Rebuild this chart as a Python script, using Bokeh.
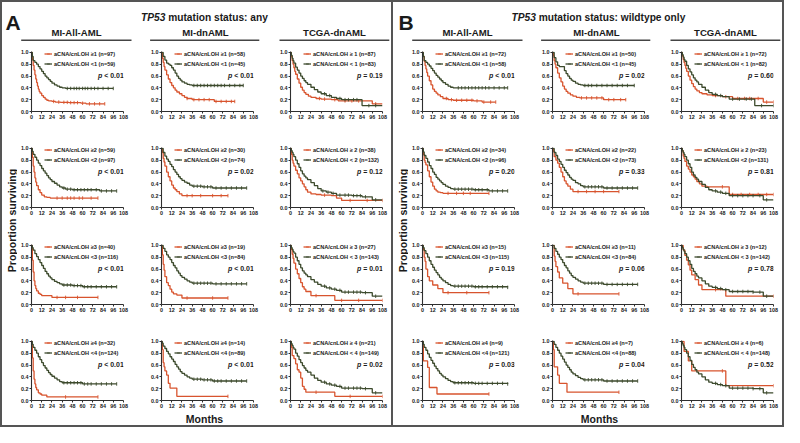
import numpy as np
from bokeh.plotting import figure
from bokeh.models import (Range1d, Label, Legend, LegendItem, FixedTicker,
                          PrintfTickFormatter)
from bokeh.layouts import row, column
from bokeh.embed import file_html
from bokeh.resources import INLINE

# ------------------------------------------------------------------ data
x_ticks = [0, 12, 24, 36, 48, 60, 72, 84, 96, 108]
y_ticks = [0.0, 0.2, 0.4, 0.6, 0.8, 1.0]
cohort_titles = ["MI-All-AML", "MI-dnAML", "TCGA-dnAML"]
cohort_keys = ["all", "dn", "tc"]
group_keys = ["a", "b"]
group_letters = ["A", "B"]
subtitle_gene = "TP53"
subtitle_rest = ["mutation status: any", "mutation status: wildtype only"]
x_title = "Months"
y_title = "Proportion surviving"

# legend labels and p-values (rows: threshold 1..4)
a_all_hi_labels = ["aCNA/cnLOH ≥1 (n=97)", "aCNA/cnLOH ≥2 (n=59)", "aCNA/cnLOH ≥3 (n=40)", "aCNA/cnLOH ≥4 (n=32)"]
a_all_lo_labels = ["aCNA/cnLOH <1 (n=59)", "aCNA/cnLOH <2 (n=97)", "aCNA/cnLOH <3 (n=116)", "aCNA/cnLOH <4 (n=124)"]
a_all_p = ["p < 0.01", "p < 0.01", "p < 0.01", "p < 0.01"]
a_dn_hi_labels = ["aCNA/cnLOH ≥1 (n=58)", "aCNA/cnLOH ≥2 (n=30)", "aCNA/cnLOH ≥3 (n=19)", "aCNA/cnLOH ≥4 (n=14)"]
a_dn_lo_labels = ["aCNA/cnLOH <1 (n=45)", "aCNA/cnLOH <2 (n=74)", "aCNA/cnLOH <3 (n=84)", "aCNA/cnLOH <4 (n=89)"]
a_dn_p = ["p < 0.01", "p = 0.02", "p < 0.01", "p < 0.01"]
a_tc_hi_labels = ["aCNA/cnLOH ≥ 1 (n=87)", "aCNA/cnLOH ≥ 2 (n=38)", "aCNA/cnLOH ≥ 3 (n=27)", "aCNA/cnLOH ≥ 4 (n=21)"]
a_tc_lo_labels = ["aCNA/cnLOH < 1 (n=83)", "aCNA/cnLOH < 2 (n=132)", "aCNA/cnLOH < 3 (n=143)", "aCNA/cnLOH < 4 (n=149)"]
a_tc_p = ["p = 0.19", "p = 0.12", "p = 0.01", "p = 0.02"]
b_all_hi_labels = ["aCNA/cnLOH ≥1 (n=72)", "aCNA/cnLOH ≥2 (n=34)", "aCNA/cnLOH ≥3 (n=15)", "aCNA/cnLOH ≥4 (n=9)"]
b_all_lo_labels = ["aCNA/cnLOH <1 (n=58)", "aCNA/cnLOH <2 (n=96)", "aCNA/cnLOH <3 (n=115)", "aCNA/cnLOH <4 (n=121)"]
b_all_p = ["p < 0.01", "p = 0.20", "p = 0.19", "p = 0.03"]
b_dn_hi_labels = ["aCNA/cnLOH ≥1 (n=50)", "aCNA/cnLOH ≥2 (n=22)", "aCNA/cnLOH ≥3 (n=11)", "aCNA/cnLOH ≥4 (n=7)"]
b_dn_lo_labels = ["aCNA/cnLOH <1 (n=45)", "aCNA/cnLOH <2 (n=73)", "aCNA/cnLOH <3 (n=84)", "aCNA/cnLOH <4 (n=88)"]
b_dn_p = ["p = 0.02", "p = 0.33", "p = 0.06", "p = 0.04"]
b_tc_hi_labels = ["aCNA/cnLOH ≥ 1 (n=72)", "aCNA/cnLOH ≥ 2 (n=23)", "aCNA/cnLOH ≥ 3 (n=12)", "aCNA/cnLOH ≥ 4 (n=6)"]
b_tc_lo_labels = ["aCNA/cnLOH < 1 (n=82)", "aCNA/cnLOH <2 (n=131)", "aCNA/cnLOH < 3 (n=142)", "aCNA/cnLOH < 4 (n=148)"]
b_tc_p = ["p = 0.60", "p = 0.81", "p = 0.78", "p = 0.52"]

# Kaplan-Meier curves: _t event times (months), _s survival after step, _c censor times
a_all_1_hi_t = [0, 1, 2, 3, 4, 5, 6, 7, 8, 9, 10, 12, 14, 16, 18, 20, 24, 28, 34, 44, 58, 64, 86]
a_all_1_hi_s = [1.0, 0.88, 0.78, 0.70, 0.62, 0.55, 0.49, 0.43, 0.38, 0.34, 0.31, 0.27, 0.24, 0.21, 0.19, 0.18, 0.17, 0.16, 0.155, 0.15, 0.14, 0.13, 0.13]
a_all_1_hi_c = [26, 32, 38, 42, 46, 50, 54, 60, 68, 74, 80, 86]
a_all_1_lo_t = [0, 1, 2, 4, 6, 8, 10, 12, 14, 16, 18, 20, 22, 24, 27, 30, 33, 36, 40, 96]
a_all_1_lo_s = [1.0, 0.93, 0.86, 0.83, 0.80, 0.76, 0.72, 0.68, 0.64, 0.60, 0.57, 0.54, 0.51, 0.48, 0.45, 0.43, 0.41, 0.40, 0.39, 0.39]
a_all_1_lo_c = [42, 46, 50, 53, 56, 60, 63, 66, 70, 74, 78, 84, 90, 96]

a_dn_1_hi_t = [0, 1, 2, 3, 4, 6, 8, 10, 12, 14, 16, 18, 21, 24, 27, 30, 36, 62, 86]
a_dn_1_hi_s = [1.0, 0.90, 0.83, 0.76, 0.70, 0.62, 0.55, 0.49, 0.44, 0.40, 0.36, 0.33, 0.30, 0.27, 0.24, 0.22, 0.20, 0.17, 0.17]
a_dn_1_hi_c = [30, 38, 44, 50, 56, 64, 70, 76, 82, 86]
a_dn_1_lo_t = [0, 2, 4, 6, 8, 10, 12, 14, 16, 18, 20, 22, 24, 27, 30, 33, 36, 96]
a_dn_1_lo_s = [1.0, 0.93, 0.87, 0.82, 0.80, 0.78, 0.74, 0.70, 0.65, 0.60, 0.56, 0.53, 0.50, 0.48, 0.46, 0.45, 0.44, 0.44]
a_dn_1_lo_c = [38, 42, 46, 50, 54, 58, 62, 66, 70, 74, 80, 86, 92, 96]

a_tc_1_hi_t = [0, 1, 2, 3, 4, 5, 6, 8, 10, 12, 14, 16, 18, 21, 24, 30, 36, 48, 56, 84, 96, 108]
a_tc_1_hi_s = [1.0, 0.93, 0.86, 0.80, 0.74, 0.68, 0.63, 0.55, 0.48, 0.41, 0.36, 0.32, 0.29, 0.26, 0.24, 0.22, 0.21, 0.20, 0.18, 0.18, 0.13, 0.13]
a_tc_1_hi_c = [34, 40, 52, 64, 72, 80, 100]
a_tc_1_lo_t = [0, 1, 2, 3, 4, 6, 8, 10, 12, 14, 16, 18, 20, 24, 28, 32, 36, 42, 48, 54, 60, 84, 108]
a_tc_1_lo_s = [1.0, 0.95, 0.90, 0.86, 0.82, 0.75, 0.70, 0.65, 0.60, 0.56, 0.52, 0.49, 0.46, 0.41, 0.37, 0.33, 0.30, 0.27, 0.24, 0.22, 0.20, 0.10, 0.10]
a_tc_1_lo_c = [40, 46, 58, 64, 68, 74, 78, 92, 100]

a_all_2_hi_t = [0, 1, 2, 3, 4, 5, 6, 8, 10, 12, 15, 18, 22, 78]
a_all_2_hi_s = [1.0, 0.85, 0.70, 0.60, 0.50, 0.43, 0.37, 0.30, 0.25, 0.21, 0.18, 0.17, 0.16, 0.16]
a_all_2_hi_c = [30, 36, 42, 46, 50, 56, 60, 70, 78]
a_all_2_lo_t = [0, 1, 2, 4, 6, 8, 10, 12, 14, 16, 18, 20, 22, 24, 27, 30, 33, 36, 40, 48, 72, 80, 100]
a_all_2_lo_s = [1.0, 0.95, 0.90, 0.85, 0.80, 0.75, 0.71, 0.66, 0.62, 0.58, 0.54, 0.50, 0.47, 0.44, 0.41, 0.38, 0.35, 0.33, 0.31, 0.30, 0.30, 0.28, 0.28]
a_all_2_lo_c = [38, 42, 46, 50, 54, 58, 62, 66, 70, 76, 82, 88, 94, 100]

a_dn_2_hi_t = [0, 1, 2, 3, 4, 6, 8, 10, 12, 14, 16, 18, 21, 24, 78]
a_dn_2_hi_s = [1.0, 0.93, 0.83, 0.77, 0.70, 0.60, 0.52, 0.45, 0.38, 0.33, 0.30, 0.27, 0.23, 0.20, 0.20]
a_dn_2_hi_c = [30, 36, 46, 60, 70, 78]
a_dn_2_lo_t = [0, 2, 4, 6, 8, 10, 12, 14, 16, 18, 20, 22, 24, 27, 30, 33, 36, 48, 60, 100]
a_dn_2_lo_s = [1.0, 0.93, 0.87, 0.82, 0.78, 0.73, 0.69, 0.64, 0.60, 0.56, 0.52, 0.49, 0.46, 0.43, 0.41, 0.38, 0.36, 0.35, 0.33, 0.33]
a_dn_2_lo_c = [38, 42, 46, 50, 54, 58, 64, 70, 76, 82, 88, 94, 100]

a_tc_2_hi_t = [0, 1, 2, 3, 4, 6, 8, 10, 12, 14, 16, 18, 20, 24, 30, 36, 48, 54, 60, 108]
a_tc_2_hi_s = [1.0, 0.90, 0.80, 0.75, 0.70, 0.63, 0.57, 0.50, 0.45, 0.40, 0.35, 0.30, 0.26, 0.23, 0.22, 0.21, 0.20, 0.16, 0.12, 0.12]
a_tc_2_hi_c = [40, 70, 90, 108]
a_tc_2_lo_t = [0, 1, 2, 3, 4, 6, 8, 10, 12, 14, 16, 18, 20, 24, 28, 32, 36, 42, 48, 54, 72, 84, 96, 108]
a_tc_2_lo_s = [1.0, 0.96, 0.93, 0.90, 0.86, 0.80, 0.74, 0.68, 0.62, 0.57, 0.53, 0.50, 0.47, 0.42, 0.37, 0.32, 0.28, 0.26, 0.24, 0.21, 0.20, 0.18, 0.13, 0.13]
a_tc_2_lo_c = [38, 44, 50, 58, 64, 68, 74, 78, 82, 88, 100]

a_all_3_hi_t = [0, 1, 2, 3, 4, 5, 6, 8, 10, 12, 24, 78]
a_all_3_hi_s = [1.0, 0.75, 0.55, 0.40, 0.32, 0.27, 0.23, 0.19, 0.17, 0.15, 0.12, 0.12]
a_all_3_hi_c = [30, 40, 54, 78]
a_all_3_lo_t = [0, 1, 2, 4, 6, 8, 10, 12, 14, 16, 18, 20, 22, 24, 27, 30, 33, 36, 48, 60, 100]
a_all_3_lo_s = [1.0, 0.96, 0.92, 0.86, 0.81, 0.76, 0.71, 0.66, 0.61, 0.56, 0.52, 0.48, 0.45, 0.42, 0.39, 0.37, 0.35, 0.33, 0.32, 0.30, 0.30]
a_all_3_lo_c = [38, 42, 46, 50, 54, 58, 62, 66, 70, 76, 82, 88, 94, 100]

a_dn_3_hi_t = [0, 1, 2, 3, 4, 6, 8, 10, 12, 14, 18, 24, 78]
a_dn_3_hi_s = [1.0, 0.84, 0.68, 0.58, 0.47, 0.37, 0.32, 0.26, 0.21, 0.18, 0.16, 0.11, 0.11]
a_dn_3_hi_c = [30, 60, 78]
a_dn_3_lo_t = [0, 2, 4, 6, 8, 10, 12, 14, 16, 18, 20, 22, 24, 27, 30, 33, 36, 60, 100]
a_dn_3_lo_s = [1.0, 0.95, 0.90, 0.84, 0.80, 0.76, 0.71, 0.66, 0.62, 0.57, 0.53, 0.49, 0.46, 0.43, 0.40, 0.38, 0.36, 0.35, 0.35]
a_dn_3_lo_c = [38, 42, 46, 50, 54, 58, 64, 70, 76, 82, 88, 94, 100]

a_tc_3_hi_t = [0, 1, 2, 3, 4, 6, 8, 10, 12, 14, 16, 18, 24, 52, 108]
a_tc_3_hi_s = [1.0, 0.93, 0.85, 0.78, 0.70, 0.60, 0.52, 0.44, 0.37, 0.30, 0.26, 0.22, 0.15, 0.07, 0.07]
a_tc_3_hi_c = [30, 60, 80, 108]
a_tc_3_lo_t = [0, 1, 2, 3, 4, 6, 8, 10, 12, 14, 16, 18, 20, 24, 28, 32, 36, 42, 48, 54, 60, 84, 96, 108]
a_tc_3_lo_s = [1.0, 0.96, 0.93, 0.90, 0.87, 0.80, 0.74, 0.68, 0.62, 0.57, 0.53, 0.50, 0.47, 0.42, 0.38, 0.34, 0.31, 0.28, 0.26, 0.24, 0.21, 0.20, 0.14, 0.14]
a_tc_3_lo_c = [40, 46, 52, 58, 64, 68, 74, 78, 82, 88, 100]

a_all_4_hi_t = [0, 1, 2, 3, 4, 5, 6, 8, 10, 12, 18, 78]
a_all_4_hi_s = [1.0, 0.72, 0.50, 0.36, 0.28, 0.22, 0.18, 0.13, 0.11, 0.09, 0.06, 0.06]
a_all_4_hi_c = [40, 78]
a_all_4_lo_t = [0, 1, 2, 4, 6, 8, 10, 12, 14, 16, 18, 20, 22, 24, 27, 30, 33, 36, 48, 60, 100]
a_all_4_lo_s = [1.0, 0.95, 0.90, 0.85, 0.80, 0.74, 0.69, 0.64, 0.59, 0.55, 0.51, 0.47, 0.44, 0.41, 0.38, 0.35, 0.32, 0.30, 0.30, 0.28, 0.28]
a_all_4_lo_c = [38, 42, 46, 50, 54, 58, 62, 66, 70, 76, 82, 88, 94, 100]

a_dn_4_hi_t = [0, 1, 2, 3, 4, 6, 8, 10, 18, 78]
a_dn_4_hi_s = [1.0, 0.86, 0.64, 0.57, 0.50, 0.43, 0.29, 0.21, 0.07, 0.07]
a_dn_4_hi_c = [78]
a_dn_4_lo_t = [0, 1, 2, 4, 6, 8, 10, 12, 14, 16, 18, 20, 22, 24, 27, 30, 33, 36, 48, 60, 100]
a_dn_4_lo_s = [1.0, 0.97, 0.92, 0.88, 0.83, 0.79, 0.74, 0.70, 0.66, 0.61, 0.57, 0.53, 0.49, 0.46, 0.43, 0.40, 0.38, 0.36, 0.35, 0.33, 0.33]
a_dn_4_lo_c = [38, 42, 46, 50, 54, 58, 62, 66, 70, 76, 82, 88, 94, 100]

a_tc_4_hi_t = [0, 1, 2, 4, 6, 8, 10, 12, 14, 16, 18, 48, 52, 108]
a_tc_4_hi_s = [1.0, 0.90, 0.76, 0.71, 0.62, 0.52, 0.48, 0.38, 0.24, 0.19, 0.14, 0.14, 0.07, 0.07]
a_tc_4_hi_c = [30, 70, 108]
a_tc_4_lo_t = [0, 1, 2, 3, 4, 6, 8, 10, 12, 14, 16, 18, 20, 24, 28, 32, 36, 42, 48, 54, 60, 84, 96, 108]
a_tc_4_lo_s = [1.0, 0.96, 0.93, 0.90, 0.87, 0.80, 0.75, 0.69, 0.64, 0.59, 0.55, 0.51, 0.48, 0.43, 0.38, 0.34, 0.31, 0.28, 0.26, 0.24, 0.21, 0.20, 0.13, 0.13]
a_tc_4_lo_c = [40, 46, 52, 58, 64, 68, 74, 78, 82, 88, 100]

b_all_1_hi_t = [0, 1, 2, 3, 4, 5, 6, 8, 10, 12, 14, 16, 18, 21, 24, 30, 36, 60, 70, 86]
b_all_1_hi_s = [1.0, 0.93, 0.85, 0.78, 0.72, 0.66, 0.60, 0.52, 0.45, 0.38, 0.34, 0.31, 0.28, 0.25, 0.22, 0.20, 0.19, 0.18, 0.16, 0.16]
b_all_1_hi_c = [28, 34, 40, 46, 52, 58, 64, 72, 80, 86]
b_all_1_lo_t = [0, 1, 2, 4, 6, 8, 10, 12, 14, 16, 18, 20, 22, 24, 27, 30, 33, 36, 40, 100]
b_all_1_lo_s = [1.0, 0.93, 0.86, 0.83, 0.80, 0.77, 0.73, 0.69, 0.65, 0.61, 0.58, 0.55, 0.52, 0.49, 0.46, 0.43, 0.41, 0.40, 0.40, 0.40]
b_all_1_lo_c = [42, 46, 50, 54, 58, 62, 66, 70, 74, 78, 84, 90, 96, 100]

b_dn_1_hi_t = [0, 1, 2, 3, 4, 6, 8, 10, 12, 14, 16, 18, 21, 24, 28, 32, 48, 60, 86]
b_dn_1_hi_s = [1.0, 0.94, 0.86, 0.80, 0.74, 0.65, 0.57, 0.50, 0.43, 0.38, 0.34, 0.31, 0.28, 0.26, 0.24, 0.23, 0.23, 0.20, 0.20]
b_dn_1_hi_c = [34, 40, 46, 52, 58, 66, 72, 80, 86]
b_dn_1_lo_t = [0, 2, 4, 6, 8, 12, 14, 16, 18, 20, 22, 24, 27, 30, 33, 36, 96]
b_dn_1_lo_s = [1.0, 0.91, 0.84, 0.78, 0.76, 0.76, 0.69, 0.64, 0.60, 0.56, 0.53, 0.51, 0.48, 0.46, 0.45, 0.44, 0.44]
b_dn_1_lo_c = [38, 42, 46, 52, 58, 64, 70, 76, 82, 88, 96]

b_tc_1_hi_t = [0, 1, 2, 3, 4, 5, 6, 8, 10, 12, 14, 16, 18, 21, 24, 30, 36, 48, 60, 84, 96, 108]
b_tc_1_hi_s = [1.0, 0.94, 0.88, 0.83, 0.78, 0.73, 0.68, 0.60, 0.53, 0.47, 0.42, 0.38, 0.35, 0.32, 0.30, 0.28, 0.27, 0.25, 0.22, 0.22, 0.16, 0.16]
b_tc_1_hi_c = [40, 52, 66, 74, 80, 90, 100, 108]
b_tc_1_lo_t = [0, 1, 2, 3, 4, 6, 8, 10, 12, 14, 16, 18, 20, 24, 28, 32, 36, 42, 48, 56, 86, 108]
b_tc_1_lo_s = [1.0, 0.96, 0.92, 0.88, 0.85, 0.78, 0.72, 0.67, 0.62, 0.57, 0.53, 0.50, 0.46, 0.41, 0.36, 0.32, 0.29, 0.27, 0.25, 0.21, 0.10, 0.10]
b_tc_1_lo_c = [40, 46, 60, 68, 76, 82, 94, 108]

b_all_2_hi_t = [0, 1, 2, 3, 4, 6, 8, 10, 12, 14, 16, 18, 21, 24, 78]
b_all_2_hi_s = [1.0, 0.90, 0.80, 0.76, 0.72, 0.62, 0.52, 0.43, 0.36, 0.31, 0.28, 0.26, 0.25, 0.24, 0.24]
b_all_2_hi_c = [30, 40, 48, 56, 78]
b_all_2_lo_t = [0, 1, 2, 4, 6, 8, 10, 12, 14, 16, 18, 20, 22, 24, 27, 30, 33, 36, 60, 78, 100]
b_all_2_lo_s = [1.0, 0.94, 0.88, 0.83, 0.77, 0.71, 0.66, 0.60, 0.56, 0.51, 0.48, 0.45, 0.42, 0.39, 0.36, 0.34, 0.32, 0.31, 0.30, 0.28, 0.28]
b_all_2_lo_c = [38, 42, 46, 50, 54, 58, 62, 66, 70, 76, 82, 88, 94, 100]

b_dn_2_hi_t = [0, 1, 2, 4, 6, 8, 10, 12, 14, 16, 18, 21, 24, 78]
b_dn_2_hi_s = [1.0, 0.95, 0.86, 0.80, 0.75, 0.68, 0.60, 0.52, 0.45, 0.40, 0.36, 0.31, 0.27, 0.27]
b_dn_2_hi_c = [30, 40, 50, 60, 78]
b_dn_2_lo_t = [0, 2, 4, 6, 8, 10, 12, 14, 16, 18, 20, 22, 24, 27, 30, 33, 36, 60, 100]
b_dn_2_lo_s = [1.0, 0.93, 0.88, 0.82, 0.78, 0.73, 0.68, 0.63, 0.59, 0.55, 0.51, 0.48, 0.46, 0.42, 0.40, 0.37, 0.35, 0.33, 0.33]
b_dn_2_lo_c = [38, 42, 46, 50, 54, 58, 64, 70, 76, 82, 88, 94, 100]

b_tc_2_hi_t = [0, 1, 2, 3, 4, 6, 8, 10, 12, 14, 16, 18, 21, 24, 30, 52, 56, 108]
b_tc_2_hi_s = [1.0, 0.96, 0.87, 0.83, 0.78, 0.70, 0.65, 0.60, 0.55, 0.52, 0.48, 0.44, 0.40, 0.36, 0.35, 0.35, 0.22, 0.22]
b_tc_2_hi_c = [48, 60, 70, 80, 90, 100, 108]
b_tc_2_lo_t = [0, 1, 2, 3, 4, 6, 8, 10, 12, 14, 16, 18, 20, 24, 28, 32, 36, 42, 48, 56, 84, 96, 108]
b_tc_2_lo_s = [1.0, 0.96, 0.93, 0.90, 0.86, 0.80, 0.74, 0.68, 0.60, 0.55, 0.51, 0.48, 0.44, 0.39, 0.34, 0.30, 0.28, 0.26, 0.24, 0.20, 0.20, 0.13, 0.13]
b_tc_2_lo_c = [40, 46, 52, 60, 66, 72, 78, 84, 92, 100]

b_all_3_hi_t = [0, 1, 2, 3, 4, 6, 8, 12, 18, 24, 78]
b_all_3_hi_s = [1.0, 0.93, 0.80, 0.73, 0.60, 0.47, 0.40, 0.33, 0.27, 0.20, 0.20]
b_all_3_hi_c = [30, 52, 78]
b_all_3_lo_t = [0, 1, 2, 4, 6, 8, 10, 12, 14, 16, 18, 20, 22, 24, 27, 30, 33, 36, 60, 100]
b_all_3_lo_s = [1.0, 0.96, 0.91, 0.86, 0.80, 0.74, 0.68, 0.63, 0.58, 0.54, 0.50, 0.46, 0.43, 0.40, 0.37, 0.34, 0.32, 0.31, 0.30, 0.29]
b_all_3_lo_c = [38, 42, 46, 50, 54, 58, 62, 66, 70, 76, 82, 88, 94, 100]

b_dn_3_hi_t = [0, 2, 3, 4, 6, 8, 12, 18, 24, 78]
b_dn_3_hi_s = [1.0, 0.82, 0.73, 0.64, 0.55, 0.45, 0.36, 0.27, 0.18, 0.18]
b_dn_3_hi_c = [30, 78]
b_dn_3_lo_t = [0, 2, 4, 6, 8, 10, 12, 14, 16, 18, 20, 22, 24, 27, 30, 33, 36, 60, 100]
b_dn_3_lo_s = [1.0, 0.95, 0.90, 0.85, 0.80, 0.76, 0.71, 0.66, 0.62, 0.57, 0.53, 0.49, 0.46, 0.43, 0.40, 0.38, 0.36, 0.34, 0.34]
b_dn_3_lo_c = [38, 42, 46, 50, 54, 58, 64, 70, 76, 82, 88, 94, 100]

b_tc_3_hi_t = [0, 2, 4, 6, 8, 10, 12, 16, 20, 24, 52, 108]
b_tc_3_hi_s = [1.0, 0.92, 0.83, 0.75, 0.67, 0.58, 0.50, 0.42, 0.33, 0.25, 0.14, 0.14]
b_tc_3_hi_c = [40, 108]
b_tc_3_lo_t = [0, 1, 2, 3, 4, 6, 8, 10, 12, 14, 16, 18, 20, 24, 28, 32, 36, 42, 48, 56, 84, 96, 108]
b_tc_3_lo_s = [1.0, 0.96, 0.93, 0.90, 0.86, 0.80, 0.74, 0.68, 0.61, 0.56, 0.52, 0.48, 0.45, 0.40, 0.35, 0.31, 0.29, 0.27, 0.25, 0.22, 0.21, 0.14, 0.14]
b_tc_3_lo_c = [40, 46, 52, 60, 66, 72, 78, 84, 92, 100]

b_all_4_hi_t = [0, 1, 6, 8, 17, 78]
b_all_4_hi_s = [1.0, 0.67, 0.56, 0.22, 0.11, 0.11]
b_all_4_hi_c = [78]
b_all_4_lo_t = [0, 1, 2, 4, 6, 8, 10, 12, 14, 16, 18, 20, 22, 24, 27, 30, 33, 36, 60, 100]
b_all_4_lo_s = [1.0, 0.95, 0.90, 0.85, 0.79, 0.73, 0.68, 0.63, 0.58, 0.54, 0.50, 0.46, 0.43, 0.40, 0.37, 0.34, 0.32, 0.30, 0.29, 0.28]
b_all_4_lo_c = [38, 42, 46, 50, 54, 58, 62, 66, 70, 76, 82, 88, 94, 100]

b_dn_4_hi_t = [0, 1, 2, 6, 8, 17, 78]
b_dn_4_hi_s = [1.0, 0.86, 0.57, 0.43, 0.29, 0.14, 0.14]
b_dn_4_hi_c = [78]
b_dn_4_lo_t = [0, 2, 4, 6, 8, 10, 12, 14, 16, 18, 20, 22, 24, 27, 30, 33, 36, 60, 100]
b_dn_4_lo_s = [1.0, 0.95, 0.90, 0.85, 0.80, 0.75, 0.70, 0.65, 0.60, 0.56, 0.52, 0.48, 0.45, 0.42, 0.39, 0.37, 0.35, 0.33, 0.33]
b_dn_4_lo_c = [38, 42, 46, 50, 54, 58, 64, 70, 76, 82, 88, 94, 100]

b_tc_4_hi_t = [0, 3, 8, 12, 52, 108]
b_tc_4_hi_s = [1.0, 0.83, 0.67, 0.50, 0.25, 0.25]
b_tc_4_hi_c = [48, 108]
b_tc_4_lo_t = [0, 1, 2, 3, 4, 6, 8, 10, 12, 14, 16, 18, 20, 24, 28, 32, 36, 42, 48, 56, 84, 96, 108]
b_tc_4_lo_s = [1.0, 0.96, 0.93, 0.90, 0.86, 0.80, 0.74, 0.68, 0.61, 0.56, 0.52, 0.48, 0.45, 0.40, 0.35, 0.31, 0.29, 0.27, 0.25, 0.21, 0.20, 0.13, 0.13]
b_tc_4_lo_c = [40, 46, 52, 60, 66, 72, 78, 84, 92, 100]

# ------------------------------------------------------------------ style / layout
FONT = "Liberation Sans"
RED = "#d8542e"
GREEN = "#3c4a2c"
INK = "#1a1a1a"
AXIS = "#2e2e2e"
BOX = "#555555"

GROUP_W = 389
HEAD_H = 45
FOOT_H = 14
YLAB_W = 15
COL_W = [130, 129, 115]
COL_RIGHT = [24, 23, 9]
ROW_H = [96, 97, 96, 75]
ROW_BOTTOM = [32, 33, 32, 11]
LEFT = 14
TOP = 4

LETTER_X = [3, 5]
SUB_X = [138.5, 118.0]
GENE_W = 27.2
TITLE_X = [74, 203, 332]
UNDER_X0 = [18.7, 147.6, 277.0]
UNDER_X1 = [129.0, 256.8, 386.8]
MONTHS_X = [202, 206]
P_X = 78
P_Y = 0.61

data = globals()


def km_censor(t, s, c):
    t = np.asarray(t, float)
    s = np.asarray(s, float)
    c = np.asarray(c, float)
    idx = np.searchsorted(t, c, side="right") - 1
    return c, s[idx]


def blank(w, h, xr, yr):
    p = figure(width=w, height=h, x_range=xr, y_range=yr, x_axis_type=None,
               y_axis_type=None, toolbar_location=None, output_backend="svg",
               min_border_left=0, min_border_right=0, min_border_top=0,
               min_border_bottom=0, outline_line_color=None,
               background_fill_color="white", border_fill_color="white")
    return p


def panel(g, ci, r):
    ck = cohort_keys[ci]
    p = figure(width=COL_W[ci], height=ROW_H[r], x_range=Range1d(0, 108),
               y_range=Range1d(0, 1.015), toolbar_location=None,
               output_backend="svg", min_border_left=LEFT,
               min_border_right=COL_RIGHT[ci], min_border_top=TOP,
               min_border_bottom=ROW_BOTTOM[r], outline_line_color=None,
               background_fill_color="white", border_fill_color="white")
    p.xgrid.visible = False
    p.ygrid.visible = False
    for ax in (p.xaxis[0], p.yaxis[0]):
        ax.axis_line_color = AXIS
        ax.axis_line_width = 1.1
        ax.major_tick_line_color = AXIS
        ax.major_tick_line_width = 1
        ax.major_tick_out = 2
        ax.major_tick_in = 0
        ax.minor_tick_out = 0
        ax.minor_tick_in = 0
        ax.major_label_text_font = FONT
        ax.major_label_text_font_size = "5.4px"
        ax.major_label_text_font_style = "bold"
        ax.major_label_text_color = INK
        ax.major_label_standoff = 1
    p.xaxis.ticker = FixedTicker(ticks=x_ticks)
    p.yaxis.ticker = FixedTicker(ticks=y_ticks)
    p.yaxis.formatter = PrintfTickFormatter(format="%.1f")

    rends = {}
    for arm, color in (("hi", RED), ("lo", GREEN)):
        base = f"{g}_{ck}_{r + 1}_{arm}"
        t = data[base + "_t"]
        s = data[base + "_s"]
        c = data[base + "_c"]
        ln = p.step(t, s, mode="after", line_color=color, line_width=1.3)
        cx, cy = km_censor(t, s, c)
        mk = p.scatter(cx, cy, marker="dash", angle=np.pi / 2, size=3.5,
                       line_color=color, line_width=0.9)
        rends[arm] = [ln, mk]

    hi_lab = data[f"{g}_{ck}_hi_labels"][r]
    lo_lab = data[f"{g}_{ck}_lo_labels"][r]
    legend = Legend(items=[LegendItem(label=hi_lab, renderers=rends["hi"]),
                           LegendItem(label=lo_lab, renderers=rends["lo"])],
                    location=(13, 44), orientation="vertical",
                    label_text_font=FONT, label_text_font_size="5.6px",
                    label_text_font_style="bold", label_text_color=INK,
                    glyph_width=8, glyph_height=7, label_height=7,
                    label_standoff=2, spacing=3, padding=0, margin=0,
                    border_line_color=None, background_fill_alpha=0)
    p.add_layout(legend)

    ptxt = data[f"{g}_{ck}_p"][r]
    p.add_layout(Label(x=P_X, y=P_Y, text=ptxt[0], text_font=FONT,
                       text_font_size="7px", text_font_style="bold italic",
                       text_color=INK, text_baseline="middle"))
    p.add_layout(Label(x=P_X, y=P_Y, x_offset=6.2, text=ptxt[2:], text_font=FONT,
                       text_font_size="7px", text_font_style="bold",
                       text_color=INK, text_baseline="middle"))
    return p


def header(gi):
    p = blank(GROUP_W, HEAD_H, Range1d(0, GROUP_W), Range1d(HEAD_H, 0))
    p.add_layout(Label(x=LETTER_X[gi], y=19.5, text=group_letters[gi], text_font=FONT,
                       text_font_size="21px", text_font_style="bold",
                       text_color=INK, text_baseline="alphabetic"))
    p.add_layout(Label(x=SUB_X[gi], y=15, text=subtitle_gene, text_font=FONT,
                       text_font_size="10.2px", text_font_style="bold italic",
                       text_color=INK, text_baseline="alphabetic"))
    p.add_layout(Label(x=SUB_X[gi] + GENE_W, y=15, text=subtitle_rest[gi], text_font=FONT,
                       text_font_size="10.2px", text_font_style="bold",
                       text_color=INK, text_baseline="alphabetic"))
    for ci in range(3):
        p.add_layout(Label(x=TITLE_X[ci], y=29.5, text=cohort_titles[ci], text_font=FONT,
                           text_font_size="9.6px", text_font_style="bold",
                           text_color=INK, text_align="center",
                           text_baseline="alphabetic"))
    p.segment(x0=UNDER_X0, y0=[37.7] * 3, x1=UNDER_X1, y1=[37.7] * 3,
              line_color="#444444", line_width=1.4)
    return p


def footer(gi):
    p = blank(GROUP_W, FOOT_H, Range1d(0, GROUP_W), Range1d(FOOT_H, 0))
    p.add_layout(Label(x=MONTHS_X[gi], y=7.5, text=x_title, text_font=FONT,
                       text_font_size="10.5px", text_font_style="bold",
                       text_color=INK, text_align="center", text_baseline="middle"))
    return p


def ylabel():
    h = sum(ROW_H)
    p = blank(YLAB_W, h, Range1d(0, YLAB_W), Range1d(h, 0))
    p.add_layout(Label(x=9.8, y=173, text=y_title, angle=np.pi / 2, text_font=FONT,
                       text_font_size="10.5px", text_font_style="bold",
                       text_color=INK, text_align="center", text_baseline="middle"))
    return p


groups = []
for gi, g in enumerate(group_keys):
    grid = column(*[row(*[panel(g, ci, r) for ci in range(3)], spacing=0)
                    for r in range(4)], spacing=0)
    mid = row(ylabel(), grid, spacing=0)
    border = {"border": f"2px solid {BOX}"} if gi == 0 else {
        "border-top": f"2px solid {BOX}", "border-right": f"2px solid {BOX}",
        "border-bottom": f"2px solid {BOX}"}
    groups.append(column(header(gi), mid, footer(gi), spacing=0, styles=border))

page = row(*groups, spacing=0)

open("out.html", "w").write(file_html(page, INLINE))
